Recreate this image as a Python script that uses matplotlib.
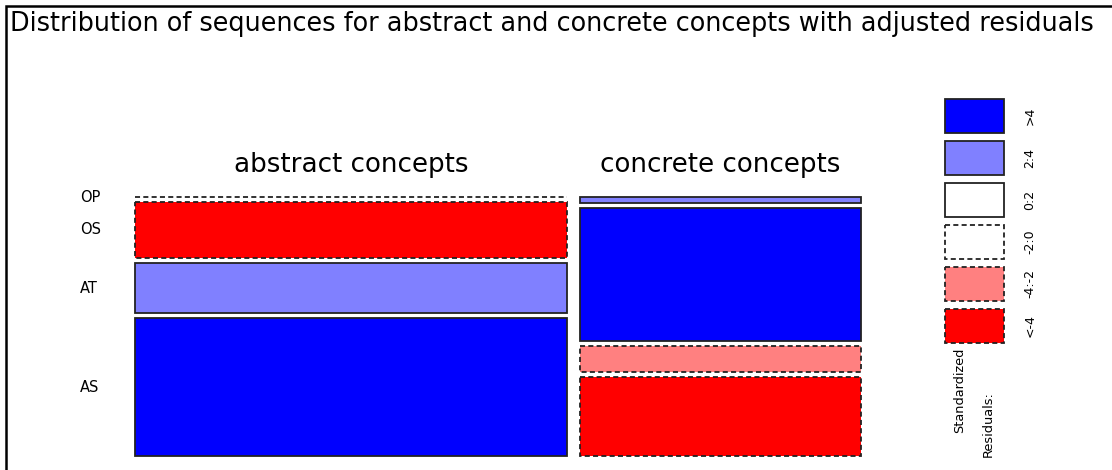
import matplotlib
matplotlib.use("Agg")
import matplotlib.pyplot as plt
from matplotlib.patches import Rectangle

# Contingency table: sequence type (rows) by concept type (columns)
concepts = ["abstract concepts", "concrete concepts"]
sequences = ["OP", "OS", "AT", "AS"]
abstract_counts = [0, 69, 62, 169]
concrete_counts = [5, 106, 21, 63]

# Adjusted residuals for each cell (same order as the counts)
abstract_resid = [-1.5, -5.2, 3.1, 5.4]
concrete_resid = [3.0, 5.6, -3.2, -5.5]

# Shading legend
legend_labels = [">4", "2:4", "0:2", "-2:0", "-4:-2", "<-4"]
legend_colors = ["#0000FF", "#8080FF", "#FFFFFF", "#FFFFFF", "#FF8080", "#FF0000"]
legend_dashed = [False, False, False, True, True, True]

title = "Distribution of sequences for abstract and concrete concepts with adjusted residuals"

W, H = 1112, 470
fig = plt.figure(figsize=(W / 100, H / 100), dpi=100)
ax = fig.add_axes([0, 0, 1, 1])
ax.set_xlim(0, W)
ax.set_ylim(H, 0)
ax.axis("off")

DASH = (0, (2.8, 1.8))
EDGE = "#222222"


def shade(r):
    if r > 4:
        return legend_colors[0], False
    if r > 2:
        return legend_colors[1], False
    if r > 0:
        return legend_colors[2], False
    if r > -2:
        return legend_colors[3], True
    if r > -4:
        return legend_colors[4], True
    return legend_colors[5], True


# outer frame (left and top edges)
ax.plot([6, 6, W], [H, 6, 6], color="black", lw=1.8, solid_joinstyle="miter",
        solid_capstyle="butt")

ax.text(10, 24, title, fontsize=18.4, ha="left", va="center", color="black")

# mosaic geometry
x_left, x_right, col_gap = 135, 861, 13
y_top, y_bottom, row_gap = 197, 456, 4.7

cols = [abstract_counts, concrete_counts]
resids = [abstract_resid, concrete_resid]
totals = [sum(c) for c in cols]
grand = sum(totals)
avail_w = (x_right - x_left) - col_gap * (len(cols) - 1)
avail_h = (y_bottom - y_top) - row_gap * (len(sequences) - 1)

x = x_left
for ci, (counts, res) in enumerate(zip(cols, resids)):
    w = avail_w * totals[ci] / grand
    y = y_top
    for ri, (n, r) in enumerate(zip(counts, res)):
        h = avail_h * n / totals[ci]
        fc, dashed = shade(r)
        ls = DASH if dashed else "-"
        if h == 0:
            # empty cell collapses to a single line
            ax.plot([x, x + w], [y, y], color=EDGE, lw=1.3, linestyle=ls)
        else:
            ax.add_patch(Rectangle((x, y), w, h, facecolor=fc, edgecolor=EDGE,
                                   lw=1.3, linestyle=ls))
        if ci == 0:
            ax.text(80, y + h / 2, sequences[ri], fontsize=10.5,
                    ha="left", va="center")
        y += h + row_gap
    ax.text(x + w / 2, 165, concepts[ci], fontsize=18.8, ha="center",
            va="center")
    x += w + col_gap

# legend
lx, lw_box, ly, lh, lstep = 945, 59, 99, 34, 41.9
for i, (lab, fc, dashed) in enumerate(zip(legend_labels, legend_colors,
                                          legend_dashed)):
    yy = ly + i * lstep
    ax.add_patch(Rectangle((lx, yy), lw_box, lh, facecolor=fc, edgecolor=EDGE,
                           lw=1.3, linestyle=DASH if dashed else "-"))
    ax.text(1030, yy + lh / 2, lab, fontsize=9, rotation=90,
            ha="center", va="center")

ax.text(960, 433, "Standardized", fontsize=9.3, rotation=90, ha="center",
        va="bottom")
ax.text(988, 457, "Residuals:", fontsize=9.3, rotation=90, ha="center",
        va="bottom")

fig.savefig("out.png", dpi=100)
